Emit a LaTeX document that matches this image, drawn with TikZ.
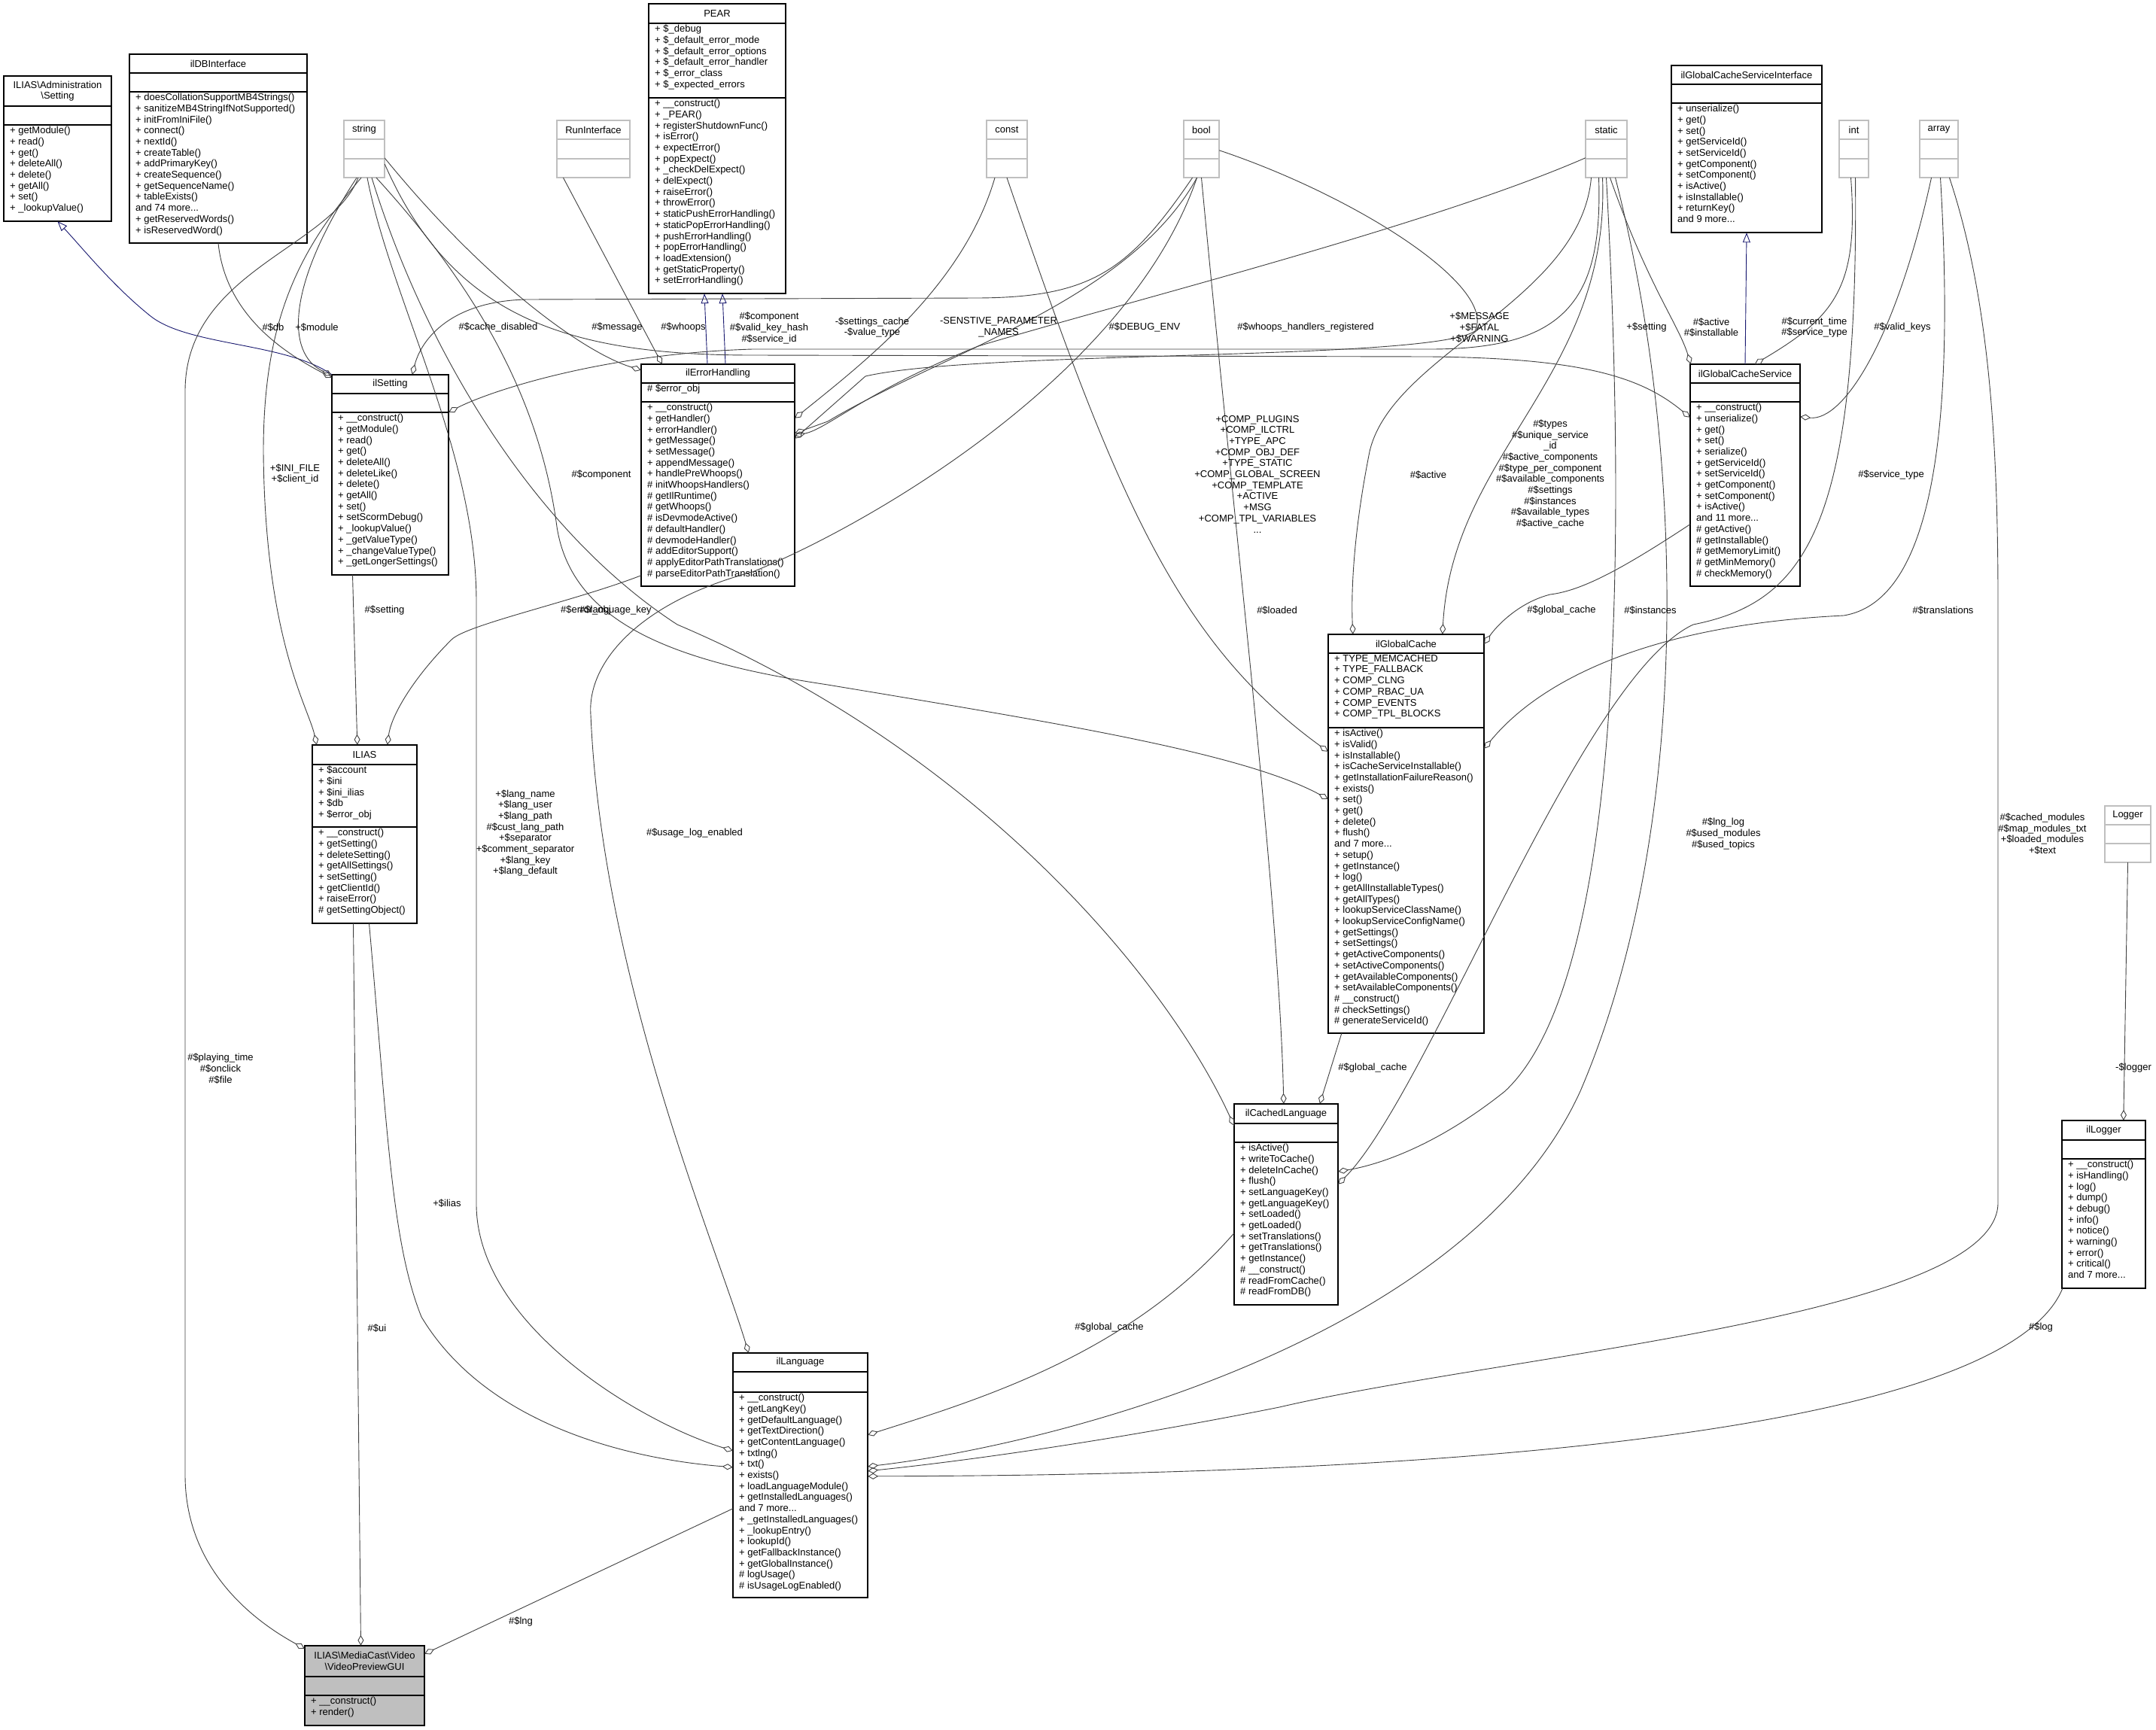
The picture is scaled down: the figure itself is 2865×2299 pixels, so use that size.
\documentclass[tikz,border=0pt]{standalone}
\usepackage{fontspec}
\setmainfont{Liberation Sans}
\usetikzlibrary{arrows.meta,fit}
\definecolor{navy}{RGB}{25,25,112}
\definecolor{lgray}{RGB}{191,191,191}
\newcommand\cls[8]{%
  \draw[line width=1.3pt,draw=#8,fill=white] (#2,#3) rectangle (#4,#5);
  \draw[line width=1.3pt,draw=#8] (#2,#6) -- (#4,#6);
  \draw[line width=1.3pt,draw=#8] (#2,#7) -- (#4,#7);
  \node[inner sep=0pt,fit={(#2,#3) (#4,#5)}] (#1) {};
  \coordinate (#1-t) at ({(#2+#4)/2},{(#3+#6)/2});
  \coordinate (#1-a) at ({#2+8},{#6+2});
  \coordinate (#1-m) at ({#2+8},{#7+2});}
\tikzset{
  ttl/.style={inner sep=0pt,align=center,font=\fontsize{13}{14.7}\selectfont},
  mem/.style={inner sep=0pt,anchor=north west,align=left,font=\fontsize{13}{14.7}\selectfont},
  lbl/.style={inner sep=0pt,align=center,font=\fontsize{13}{14.7}\selectfont},
  agg/.style={draw=black!75,line width=0.9pt,-{Diamond[open,length=14pt,width=8pt,line width=0.9pt]}},
  inh/.style={draw=navy,line width=0.9pt,-{Triangle[open,length=13pt,width=10pt,line width=0.9pt]}}
}
\begin{document}
\begin{tikzpicture}[x=1pt,y=-1pt]
\useasboundingbox[fill=white] (0,0) rectangle (2865,2299);

% ---------- classes ----------
\cls{adm}{5}{101}{148}{294}{141}{166}{black}
\cls{db}{172}{72}{408}{323}{97}{122}{black}
\cls{string}{457}{160}{511}{236}{185}{211}{lgray}
\cls{run}{740}{160}{837}{236}{185}{211}{lgray}
\cls{pear}{862}{5}{1044}{390}{31}{130}{black}
\cls{const}{1311}{160}{1365}{236}{185}{211}{lgray}
\cls{bool}{1573}{160}{1620}{236}{185}{211}{lgray}
\cls{static}{2107}{160}{2162}{236}{185}{211}{lgray}
\cls{gcsi}{2221}{87}{2421}{309}{112}{137}{black}
\cls{int}{2444}{160}{2483}{236}{185}{211}{lgray}
\cls{array}{2551}{160}{2602}{236}{185}{211}{lgray}
\cls{set}{441}{498}{596}{764}{523}{548}{black}
\cls{err}{852}{484}{1056}{779}{509}{534}{black}
\cls{gcs}{2246}{484}{2392}{779}{509}{534}{black}
\cls{gc}{1765}{843}{1972}{1373}{868}{967}{black}
\cls{ilias}{415}{990}{554}{1227}{1016}{1099}{black}
\cls{cl}{1640}{1467}{1778}{1734}{1493}{1518}{black}
\cls{logger}{2797}{1071}{2858}{1146}{1096}{1121}{lgray}
\cls{ilog}{2740}{1489}{2851}{1712}{1515}{1540}{black}
\cls{lang}{974}{1798}{1153}{2123}{1823}{1850}{black}
\cls{vp}{405}{2187}{564}{2293}{2228}{2253}{black}
\fill[lgray] (405.7,2187.7) rectangle (563.3,2227.3);
\fill[lgray] (405.7,2228.7) rectangle (563.3,2252.3);
\fill[lgray] (405.7,2253.7) rectangle (563.3,2292.3);

% ---------- texts ----------
\node[ttl] at (adm-t) {ILIAS\textbackslash Administration\\\textbackslash Setting};
\node[mem] at (adm-m) {+ getModule()\\+ read()\\+ get()\\+ deleteAll()\\+ delete()\\+ getAll()\\+ set()\\+ \_lookupValue()};
\node[ttl] at (db-t) {ilDBInterface};
\node[mem] at (db-m) {+ doesCollationSupportMB4Strings()\\+ sanitizeMB4StringIfNotSupported()\\+ initFromIniFile()\\+ connect()\\+ nextId()\\+ createTable()\\+ addPrimaryKey()\\+ createSequence()\\+ getSequenceName()\\+ tableExists()\\and 74 more...\\+ getReservedWords()\\+ isReservedWord()};
\node[ttl] at (string-t) {string};
\node[ttl] at (run-t) {RunInterface};
\node[ttl] at (const-t) {const};
\node[ttl] at (bool-t) {bool};
\node[ttl] at (static-t) {static};
\node[ttl] at (int-t) {int};
\node[ttl] at (array-t) {array};
\node[ttl] at (logger-t) {Logger};
\node[ttl] at (pear-t) {PEAR};
\node[mem] at (pear-a) {+ \$\_debug\\+ \$\_default\_error\_mode\\+ \$\_default\_error\_options\\+ \$\_default\_error\_handler\\+ \$\_error\_class\\+ \$\_expected\_errors};
\node[mem] at (pear-m) {+ \_\_construct()\\+ \_PEAR()\\+ registerShutdownFunc()\\+ isError()\\+ expectError()\\+ popExpect()\\+ \_checkDelExpect()\\+ delExpect()\\+ raiseError()\\+ throwError()\\+ staticPushErrorHandling()\\+ staticPopErrorHandling()\\+ pushErrorHandling()\\+ popErrorHandling()\\+ loadExtension()\\+ getStaticProperty()\\+ setErrorHandling()};
\node[ttl] at (gcsi-t) {ilGlobalCacheServiceInterface};
\node[mem] at (gcsi-m) {+ unserialize()\\+ get()\\+ set()\\+ getServiceId()\\+ setServiceId()\\+ getComponent()\\+ setComponent()\\+ isActive()\\+ isInstallable()\\+ returnKey()\\and 9 more...};
\node[ttl] at (set-t) {ilSetting};
\node[mem] at (set-m) {+ \_\_construct()\\+ getModule()\\+ read()\\+ get()\\+ deleteAll()\\+ deleteLike()\\+ delete()\\+ getAll()\\+ set()\\+ setScormDebug()\\+ \_lookupValue()\\+ \_getValueType()\\+ \_changeValueType()\\+ \_getLongerSettings()};
\node[ttl] at (err-t) {ilErrorHandling};
\node[mem] at (err-a) {\# \$error\_obj};
\node[mem] at (err-m) {+ \_\_construct()\\+ getHandler()\\+ errorHandler()\\+ getMessage()\\+ setMessage()\\+ appendMessage()\\+ handlePreWhoops()\\\# initWhoopsHandlers()\\\# getIlRuntime()\\\# getWhoops()\\\# isDevmodeActive()\\\# defaultHandler()\\\# devmodeHandler()\\\# addEditorSupport()\\\# applyEditorPathTranslations()\\\# parseEditorPathTranslation()};
\node[ttl] at (gcs-t) {ilGlobalCacheService};
\node[mem] at (gcs-m) {+ \_\_construct()\\+ unserialize()\\+ get()\\+ set()\\+ serialize()\\+ getServiceId()\\+ setServiceId()\\+ getComponent()\\+ setComponent()\\+ isActive()\\and 11 more...\\\# getActive()\\\# getInstallable()\\\# getMemoryLimit()\\\# getMinMemory()\\\# checkMemory()};
\node[ttl] at (gc-t) {ilGlobalCache};
\node[mem] at (gc-a) {+ TYPE\_MEMCACHED\\+ TYPE\_FALLBACK\\+ COMP\_CLNG\\+ COMP\_RBAC\_UA\\+ COMP\_EVENTS\\+ COMP\_TPL\_BLOCKS};
\node[mem] at (gc-m) {+ isActive()\\+ isValid()\\+ isInstallable()\\+ isCacheServiceInstallable()\\+ getInstallationFailureReason()\\+ exists()\\+ set()\\+ get()\\+ delete()\\+ flush()\\and 7 more...\\+ setup()\\+ getInstance()\\+ log()\\+ getAllInstallableTypes()\\+ getAllTypes()\\+ lookupServiceClassName()\\+ lookupServiceConfigName()\\+ getSettings()\\+ setSettings()\\+ getActiveComponents()\\+ setActiveComponents()\\+ getAvailableComponents()\\+ setAvailableComponents()\\\# \_\_construct()\\\# checkSettings()\\\# generateServiceId()};
\node[ttl] at (ilias-t) {ILIAS};
\node[mem] at (ilias-a) {+ \$account\\+ \$ini\\+ \$ini\_ilias\\+ \$db\\+ \$error\_obj};
\node[mem] at (ilias-m) {+ \_\_construct()\\+ getSetting()\\+ deleteSetting()\\+ getAllSettings()\\+ setSetting()\\+ getClientId()\\+ raiseError()\\\# getSettingObject()};
\node[ttl] at (cl-t) {ilCachedLanguage};
\node[mem] at (cl-m) {+ isActive()\\+ writeToCache()\\+ deleteInCache()\\+ flush()\\+ setLanguageKey()\\+ getLanguageKey()\\+ setLoaded()\\+ getLoaded()\\+ setTranslations()\\+ getTranslations()\\+ getInstance()\\\# \_\_construct()\\\# readFromCache()\\\# readFromDB()};
\node[ttl] at (ilog-t) {ilLogger};
\node[mem] at (ilog-m) {+ \_\_construct()\\+ isHandling()\\+ log()\\+ dump()\\+ debug()\\+ info()\\+ notice()\\+ warning()\\+ error()\\+ critical()\\and 7 more...};
\node[ttl] at (lang-t) {ilLanguage};
\node[mem] at (lang-m) {+ \_\_construct()\\+ getLangKey()\\+ getDefaultLanguage()\\+ getTextDirection()\\+ getContentLanguage()\\+ txtlng()\\+ txt()\\+ exists()\\+ loadLanguageModule()\\+ getInstalledLanguages()\\and 7 more...\\+ \_getInstalledLanguages()\\+ \_lookupEntry()\\+ lookupId()\\+ getFallbackInstance()\\+ getGlobalInstance()\\\# logUsage()\\\# isUsageLogEnabled()};
\node[ttl] at (vp-t) {ILIAS\textbackslash MediaCast\textbackslash Video\\\textbackslash VideoPreviewGUI};
\node[mem] at (vp-m) {+ \_\_construct()\\+ render()};

% ---------- connectors ----------
\draw[inh] ([xshift=0pt]set.north west) .. controls (380,455) and (250,460) .. (200,420) .. controls (150,380) and (110,330) .. (adm.south);
\draw[inh] ([xshift=-14pt]err.north) -- ([xshift=-17pt]pear.south);
\draw[inh] ([xshift=10pt]err.north) -- ([xshift=7pt]pear.south);
\draw[inh] (gcs.north) -- (gcsi.south);

\draw[agg] (db.south) .. controls (300,420) and (380,470) .. ([yshift=-4pt]set.north west);
\draw[agg] ([xshift=-10pt]string.south) .. controls (380,380) and (380,470) .. ([yshift=-1pt]set.north west);
\draw[agg] ([xshift=-4pt]string.south) .. controls (400,330) and (350,420) .. (350,600) .. controls (352,850) and (410,940) .. ([xshift=6pt]ilias.north west);
\draw[agg] ([xshift=-8pt]string.south) .. controls (440,330) and (246,360) .. (246,520) -- (246,1960) .. controls (246,2080) and (330,2150) .. ([yshift=-4pt]vp.north west);
\draw[agg] ([xshift=4pt]string.south) .. controls (520,400) and (633,600) .. (633,800) -- (633,1600) .. controls (633,1760) and (850,1890) .. ([yshift=-130pt]lang.north west);
\draw[agg] ([xshift=10pt]string.south) .. controls (560,450) and (700,700) .. (900,830) .. controls (1300,1000) and (1550,1300) .. ([yshift=-29pt]cl.north west);
\draw[agg] ([xshift=16pt]string.south) .. controls (650,400) and (720,550) .. (740,700) .. controls (760,830) and (900,880) .. (1100,910) .. controls (1400,960) and (1650,1000) .. ([yshift=-219pt]gc.north west);
\draw[agg] ([yshift=-12pt]string.east) .. controls (650,380) and (780,470) .. ([yshift=-8pt]err.north west);
\draw[agg] ([yshift=-20pt]string.east) .. controls (600,420) and (750,472) .. (1000,472) -- (1900,474) .. controls (2100,476) and (2180,500) .. ([yshift=-71pt]gcs.north west);
\draw[agg] ([xshift=-12pt]bool.south) .. controls (1500,360) and (1450,395) .. (1300,396) -- (700,398) .. controls (600,400) and (560,450) .. ([xshift=107pt]set.north west);
\draw[agg] ([xshift=-40pt]run.south) -- ([xshift=28pt]err.north west);
\draw[agg] ([xshift=-16pt]const.south) .. controls (1280,380) and (1150,480) .. ([yshift=-72pt]err.north east);
\draw[agg] ([xshift=-6pt]bool.south) .. controls (1500,400) and (1250,470) .. (1100,560) -- ([yshift=-92pt]err.north east);
\draw[agg] ([yshift=-40pt]bool.north east) .. controls (1800,260) and (1990,380) .. (1960,440) .. controls (1900,480) and (1300,465) .. (1150,500) -- ([yshift=-99pt]err.north east);
\draw[agg] ([yshift=-50pt]static.north west) .. controls (1900,300) and (1500,400) .. (1300,460) .. controls (1150,520) and (1100,570) .. ([yshift=-95pt]err.north east);
\draw[agg] ([xshift=-10pt]static.south) .. controls (2130,400) and (2080,464) .. (1900,464) -- (1000,464) .. controls (800,470) and (650,520) .. ([yshift=-50pt]set.north east);
\draw[agg] (bool.south) .. controls (1640,700) and (1700,1200) .. ([xshift=66pt]cl.north west);
\draw[agg] ([xshift=-6pt]bool.south) .. controls (1500,500) and (1150,700) .. (1000,760) .. controls (850,800) and (780,880) .. (785,950) .. controls (800,1300) and (950,1650) .. ([xshift=21pt]lang.north west);
\draw[agg] (const.south) .. controls (1480,650) and (1560,850) .. ([yshift=-156pt]gc.north west);
\draw[agg] ([xshift=-20pt]static.south) .. controls (2100,400) and (1850,470) .. (1820,600) .. controls (1800,700) and (1795,780) .. ([xshift=33pt]gc.north west);
\draw[agg] ([xshift=-5pt]static.south) .. controls (2140,500) and (1930,600) .. ([xshift=152pt]gc.north west);
\draw[agg] ([xshift=5pt]static.south) .. controls (2190,380) and (2230,430) .. ([xshift=1pt]gcs.north west);
\draw[agg] ([xshift=0pt]static.south) .. controls (2160,700) and (2160,1300) .. (2000,1450) .. controls (1900,1530) and (1820,1550) .. ([yshift=-90pt]cl.north east);
\draw[agg] ([xshift=12pt]static.south) .. controls (2240,600) and (2250,1100) .. (2100,1450) .. controls (1950,1780) and (1400,1920) .. ([yshift=-151pt]lang.north east);
\draw[agg] ([xshift=-4pt]int.south) .. controls (2470,380) and (2440,420) .. ([xshift=86pt]gcs.north west);
\draw[agg] ([xshift=2pt]int.south) .. controls (2470,700) and (2400,800) .. (2250,830) .. controls (2100,900) and (1900,1450) .. ([yshift=-107pt]cl.north east);
\draw[agg] ([xshift=-10pt]array.south) .. controls (2520,450) and (2450,560) .. ([yshift=-70pt]gcs.north east);
\draw[agg] ([xshift=2pt]array.south) .. controls (2600,600) and (2560,800) .. (2450,818) .. controls (2200,830) and (2050,900) .. ([yshift=-152pt]gc.north east);
\draw[agg] ([xshift=14pt]array.south) .. controls (2645,400) and (2655,600) .. (2655,800) -- (2655,1600) .. controls (2650,1750) and (2000,1800) .. (1700,1870) .. controls (1450,1920) and (1250,1945) .. ([yshift=-157pt]lang.north east);
\draw[agg] ([yshift=-213pt]gcs.north west) .. controls (2150,760) and (2100,785) .. (2060,790) .. controls (2020,800) and (1990,830) .. ([yshift=-13pt]gc.north east);
\draw[agg] ([xshift=18pt]gc.south west) -- ([xshift=114pt]cl.north west);
\draw[agg] ([yshift=-172pt]cl.north west) .. controls (1500,1800) and (1300,1860) .. ([yshift=-109pt]lang.north east);
\draw[agg] ([xshift=1pt]ilog.south west) .. controls (2680,1860) and (2200,1960) .. ([yshift=-164pt]lang.north east);
\draw[agg] (logger.south) -- ([xshift=82pt]ilog.north west);
\draw[agg] ([xshift=-50pt]set.south) -- ([xshift=60pt]ilias.north west);
\draw[agg] ([yshift=-281pt]err.north west) .. controls (760,800) and (620,830) .. (600,850) .. controls (550,900) and (520,950) .. ([xshift=100pt]ilias.north west);
\draw[agg] ([xshift=-15pt]ilias.south) -- ([xshift=-5pt]vp.north);
\draw[agg] ([xshift=6pt]ilias.south) .. controls (515,1500) and (520,1650) .. (560,1750) .. controls (650,1900) and (850,1940) .. ([yshift=-152pt]lang.north west);
\draw[agg] ([yshift=-207pt]lang.north west) -- ([yshift=-11pt]vp.north east);

% ---------- labels ----------
\node[lbl] (l1) at (363,435) {\#\$db};
\node[lbl] (l2) at (421,435) {+\$module};
\node[lbl] (l3) at (662,435) {\#\$cache\_disabled};
\node[lbl] (l4) at (820,435) {\#\$message};
\node[lbl] (l5) at (908,435) {\#\$whoops};
\node[lbl] (l6) at (1022,436) {\#\$component\\\#\$valid\_key\_hash\\\#\$service\_id};
\node[lbl] (l7) at (1159,435) {-\$settings\_cache\\-\$value\_type};
\node[lbl] (l8) at (1327,435) {-SENSTIVE\_PARAMETER\\\_NAMES};
\node[lbl] (l9) at (1521,435) {\#\$DEBUG\_ENV};
\node[lbl] (l10) at (1735,435) {\#\$whoops\_handlers\_registered};
\node[lbl] (l11) at (1966,435) {+\$MESSAGE\\+\$FATAL\\+\$WARNING};
\node[lbl] (l12) at (2188,435) {+\$setting};
\node[lbl] (l13) at (2274,435) {\#\$active\\\#\$installable};
\node[lbl] (l14) at (2411,435) {\#\$current\_time\\\#\$service\_type};
\node[lbl] (l15) at (2528,435) {\#\$valid\_keys};
\node[lbl] (l16) at (392,630) {+\$INI\_FILE\\+\$client\_id};
\node[lbl] (l17) at (799,631) {\#\$component};
\node[lbl] (l18) at (1671,630) {+COMP\_PLUGINS\\+COMP\_ILCTRL\\+TYPE\_APC\\+COMP\_OBJ\_DEF\\+TYPE\_STATIC\\+COMP\_GLOBAL\_SCREEN\\+COMP\_TEMPLATE\\+ACTIVE\\+MSG\\+COMP\_TPL\_VARIABLES\\...};
\node[lbl] (l19) at (1898,631) {\#\$active};
\node[lbl] (l20) at (2060,630) {\#\$types\\\#\$unique\_service\\\_id\\\#\$active\_components\\\#\$type\_per\_component\\\#\$available\_components\\\#\$settings\\\#\$instances\\\#\$available\_types\\\#\$active\_cache};
\node[lbl] (l21) at (2513,631) {\#\$service\_type};
\node[lbl] (l22) at (511,811) {\#\$setting};
\node[lbl,anchor=west] (l23) at (745,811) {\#\$error\_obj};
\node[lbl,anchor=west] (l24) at (770,811) {\#\$language\_key};
\node[lbl] (l25) at (1697,811) {\#\$loaded};
\node[lbl] (l26) at (2075,811) {\#\$global\_cache};
\node[lbl] (l27) at (2193,811) {\#\$instances};
\node[lbl] (l28) at (2582,811) {\#\$translations};
\node[lbl] (l29) at (698,1107) {+\$lang\_name\\+\$lang\_user\\+\$lang\_path\\\#\$cust\_lang\_path\\+\$separator\\+\$comment\_separator\\+\$lang\_key\\+\$lang\_default};
\node[lbl] (l30) at (923,1107) {\#\$usage\_log\_enabled};
\node[lbl] (l31) at (2290,1108) {\#\$lng\_log\\\#\$used\_modules\\\#\$used\_topics};
\node[lbl] (l32) at (2714,1108) {\#\$cached\_modules\\\#\$map\_modules\_txt\\+\$loaded\_modules\\+\$text};
\node[lbl] (l33) at (293,1420) {\#\$playing\_time\\\#\$onclick\\\#\$file};
\node[lbl] (l34) at (1824,1419) {\#\$global\_cache};
\node[lbl] (l35) at (2835,1419) {-\$logger};
\node[lbl] (l36) at (594,1599) {+\$ilias};
\node[lbl] (l37) at (501,1765) {\#\$ui};
\node[lbl] (l38) at (1474,1764) {\#\$global\_cache};
\node[lbl] (l39) at (2712,1764) {\#\$log};
\node[lbl] (l40) at (692,2155) {\#\$lng};
\end{tikzpicture}
\end{document}
